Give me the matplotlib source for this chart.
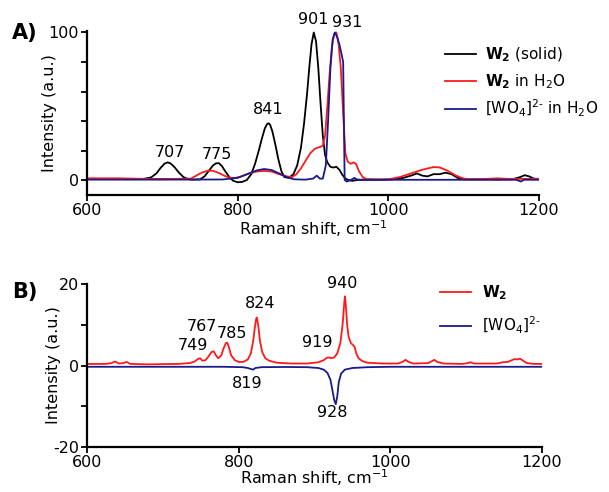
import numpy as np
import matplotlib
matplotlib.use('Agg')
import matplotlib.pyplot as plt
from matplotlib.lines import Line2D

plt.rcParams['font.family'] = 'DejaVu Sans'
plt.rcParams['mathtext.fontset'] = 'dejavusans'
plt.rcParams['font.size'] = 11.

# ---- panel A: Raman spectra (normalised) ----
a_solid_x = [600, 620, 640, 660, 675, 685, 692, 698, 703, 707, 711, 716, 722,
             728, 735, 742, 750, 756, 762, 767, 771, 775, 779, 784, 789, 794,
             800, 806, 812, 818, 823, 828, 832, 836, 839, 841, 843, 846, 850,
             854, 858, 862, 868, 874, 879, 884, 888, 892, 895, 898, 901, 904,
             907, 910, 913, 916, 919, 923, 927, 931, 935, 939, 943, 947, 952,
             958, 965, 975, 990, 1005, 1020, 1030, 1038, 1045, 1052, 1060,
             1068, 1076, 1084, 1092, 1100, 1110, 1130, 1150, 1165, 1175, 1181,
             1187, 1193, 1200]
a_solid_y = [0.8, 0.8, 0.7, 0.7, 0.8, 1.8, 4.5, 8.5, 11.2, 12.0, 11.2, 8.8,
             5.0, 2.0, 0.5, 0.3, 0.5, 2.5, 6.5, 9.8, 11.3, 11.5, 9.5, 5.5, 2.0,
             -0.5, -1.5, -1.2, 0.0, 4.0, 11.0, 20.0, 28.0, 35.0, 38.0, 38.5,
             37.5, 33.0, 24.0, 14.0, 6.0, 2.0, 1.5, 4.0, 10.0, 22.0, 38.0,
             58.0, 76.0, 92.0, 100.0, 94.0, 76.0, 52.0, 30.0, 17.0, 12.0, 9.0,
             8.5, 9.0, 7.0, 3.5, 1.0, 0.0, -0.5, 0.0, 0.3, 0.5, 0.3, 0.5, 1.5,
             3.0, 4.5, 3.0, 2.5, 4.0, 4.0, 5.0, 4.0, 1.5, 0.5, 0.5, 0.5, 0.5,
             0.6, 2.0, 3.3, 2.5, 1.0, 0.8]

a_water_x = [600, 640, 680, 720, 738, 745, 752, 760, 767, 775, 783, 790, 797,
             805, 815, 825, 835, 845, 855, 865, 872, 878, 884, 890, 896, 902,
             906, 910, 913, 916, 919, 922, 925, 928, 931, 934, 937, 940, 943,
             946, 950, 954, 957, 961, 966, 972, 980, 1000, 1015, 1030, 1045,
             1060, 1068, 1078, 1090, 1100, 1110, 1130, 1145, 1160, 1180, 1200]
a_water_y = [1.2, 1.2, 0.8, 0.8, 1.0, 3.0, 5.0, 6.3, 6.3, 4.8, 2.8, 1.5, 1.5,
             2.5, 4.5, 5.8, 6.2, 5.8, 4.0, 2.5, 2.0, 4.0, 8.0, 13.0, 18.0,
             21.0, 22.0, 22.5, 23.5, 30.0, 50.0, 72.0, 90.0, 99.0, 100.0, 92.0,
             75.0, 45.0, 18.0, 12.5, 11.0, 12.0, 11.0, 6.0, 2.0, 0.5, 0.3, 0.5,
             2.0, 4.5, 7.0, 8.8, 8.6, 6.5, 3.0, 1.0, 0.6, 0.8, 1.2, 0.8, 0.8,
             0.8]

a_wo4_x = [600, 700, 780, 800, 815, 825, 835, 845, 855, 865, 875, 890, 900,
           905, 909, 913, 917, 920, 923, 926, 929, 932, 935, 938, 940, 941,
           942, 945, 950, 955, 958, 965, 1000, 1100, 1170, 1176, 1180, 1200]
a_wo4_y = [0.3, 0.3, 0.4, 1.5, 4.5, 6.5, 7.5, 6.8, 4.5, 2.0, 0.5, 0.3, 1.0,
           3.0, 1.0, 1.0, 10.0, 40.0, 75.0, 95.0, 100.0, 97.0, 92.0, 85.0,
           80.0, 40.0, 0.0, -1.0, 0.0, 1.5, 0.5, 0.0, 0.2, 0.2, 0.2, -1.0,
           0.2, 0.2]

a_peaks = ['707', '775', '841', '901', '931']
a_peak_x = [710, 773, 840, 900, 945]
a_peak_y = [19, 17.6, 48, 109, 107]

# ---- panel B: difference spectra ----
b_w2_x = [600, 625, 632, 637, 642, 648, 652, 657, 680, 720, 735, 742, 746,
          749, 752, 756, 760, 764, 767, 770, 773, 777, 780, 783, 785, 787,
          790, 795, 800, 806, 812, 816, 819, 821, 823, 824, 826, 828, 831,
          835, 840, 850, 870, 890, 905, 912, 916, 919, 922, 926, 930, 934,
          937, 939, 940, 941, 943, 945, 948, 951, 953, 955, 958, 963, 970,
          990, 1010, 1016, 1020, 1024, 1030, 1050, 1055, 1058, 1062, 1070,
          1095, 1102, 1106, 1110, 1140, 1148, 1155, 1160, 1164, 1167, 1171,
          1175, 1180, 1190, 1200]
b_w2_y = [0.4, 0.4, 0.6, 1.0, 0.5, 0.6, 0.9, 0.4, 0.3, 0.4, 0.6, 1.0, 1.6,
          1.8, 1.2, 1.3, 2.2, 3.3, 3.5, 2.5, 1.8, 2.5, 4.2, 5.5, 5.6, 4.5,
          2.5, 1.3, 0.9, 0.9, 1.5, 3.0, 6.0, 9.0, 11.5, 11.8, 9.5, 6.0, 3.3,
          1.8, 1.2, 0.7, 0.5, 0.5, 0.8, 1.3, 1.9, 2.0, 1.8, 2.0, 3.0, 5.5,
          10.0, 15.0, 17.0, 15.5, 10.0, 7.0, 5.5, 5.0, 4.5, 3.0, 1.8, 1.1,
          0.7, 0.5, 0.5, 0.9, 1.4, 0.9, 0.5, 0.6, 1.1, 1.4, 0.9, 0.5, 0.4,
          0.6, 0.8, 0.5, 0.5, 0.8, 0.9, 1.3, 1.6, 1.5, 1.7, 1.2, 0.6, 0.4,
          0.4]

b_wo4_x = [600, 780, 805, 812, 817, 819, 822, 830, 860, 890, 905, 912, 917,
           921, 924, 926, 928, 930, 932, 935, 940, 950, 970, 1000, 1200]
b_wo4_y = [-0.3, -0.3, -0.4, -0.6, -0.9, -1.0, -0.6, -0.4, -0.35, -0.4,
           -0.6, -1.0, -1.8, -3.5, -6.5, -8.5, -9.5, -7.5, -4.0, -2.0, -1.0,
           -0.6, -0.4, -0.3, -0.3]

b_peaks = ['749', '767', '785', '824', '919', '940', '819', '928']
b_peak_x = [739, 752, 791, 828, 903, 937, 811, 924]
b_peak_y = [4.9, 9.7, 7.9, 15.3, 5.7, 20.2, -4.4, -11.6]

red = '#ff1a1a'
navy = '#1a1a8c'
lw = 1.3

fig = plt.figure(figsize=(6.09, 4.92), dpi=100)
axA = fig.add_axes([0.143, 0.604, 0.742, 0.333])
axB = fig.add_axes([0.143, 0.0915, 0.747, 0.331])

axA.plot(a_solid_x, a_solid_y, color='black', lw=lw)
axA.plot(a_water_x, a_water_y, color=red, lw=lw)
axA.plot(a_wo4_x, a_wo4_y, color=navy, lw=lw)
axA.set_ylim(-10, 101)
axA.set_yticks([0, 20, 40, 60, 80, 100])
axA.set_yticklabels(['0', '', '', '', '', '100'])
for t, x, y in zip(a_peaks, a_peak_x, a_peak_y):
    axA.text(x, y, t, ha='center', va='center', fontsize=11.5)

axB.plot(b_w2_x, b_w2_y, color=red, lw=lw)
axB.plot(b_wo4_x, b_wo4_y, color=navy, lw=lw)
axB.set_ylim(-20, 20)
axB.set_yticks([-20, -10, 0, 10, 20])
axB.set_yticklabels(['-20', '', '0', '', '20'])
for t, x, y in zip(b_peaks, b_peak_x, b_peak_y):
    axB.text(x, y, t, ha='center', va='center', fontsize=11.5)

for ax in (axA, axB):
    ax.set_xlim(600, 1200)
    ax.set_xticks([600, 800, 1000, 1200])
    ax.spines['top'].set_visible(False)
    ax.spines['right'].set_visible(False)
    ax.spines['left'].set_linewidth(1.6)
    ax.spines['bottom'].set_linewidth(1.6)
    ax.tick_params(direction='out', length=4, width=1.3, labelsize=11.5,
                   pad=2)
    ax.set_ylabel('Intensity (a.u.)', fontsize=11.5, labelpad=-6)
axA.set_xlabel(r'Raman shift, cm$^{-1}$', fontsize=11.5, labelpad=0)
axB.set_xlabel(r'Raman shift, cm$^{-1}$', fontsize=11.5, labelpad=-2)

handlesA = [Line2D([], [], color='black', lw=lw),
            Line2D([], [], color=red, lw=lw),
            Line2D([], [], color=navy, lw=lw)]
labelsA = [r'$\mathbf{W_2}$ (solid)', r'$\mathbf{W_2}$ in H$_2$O',
           r'[WO$_4$]$^{2\text{-}}$ in H$_2$O']
fig.legend(handlesA, labelsA, loc='upper left',
           bbox_to_anchor=(445 / 609, 1 - 46 / 492), frameon=False,
           fontsize=11, borderpad=0, borderaxespad=0,
           handlelength=2.0, handletextpad=0.65, labelspacing=0.5)

handlesB = [Line2D([], [], color=red, lw=lw),
            Line2D([], [], color=navy, lw=lw)]
labelsB = [r'$\mathbf{W_2}$', r'[WO$_4$]$^{2\text{-}}$']
fig.legend(handlesB, labelsB, loc='upper left',
           bbox_to_anchor=(440 / 609, 1 - 283 / 492), frameon=False,
           fontsize=11, borderpad=0, borderaxespad=0,
           handlelength=2.0, handletextpad=0.75, labelspacing=0.85)

fig.text(0.02, 0.932, 'A)', fontsize=15, fontweight='bold', va='center')
fig.text(0.02, 0.406, 'B)', fontsize=15, fontweight='bold', va='center')

fig.savefig('out.png', dpi=100)
